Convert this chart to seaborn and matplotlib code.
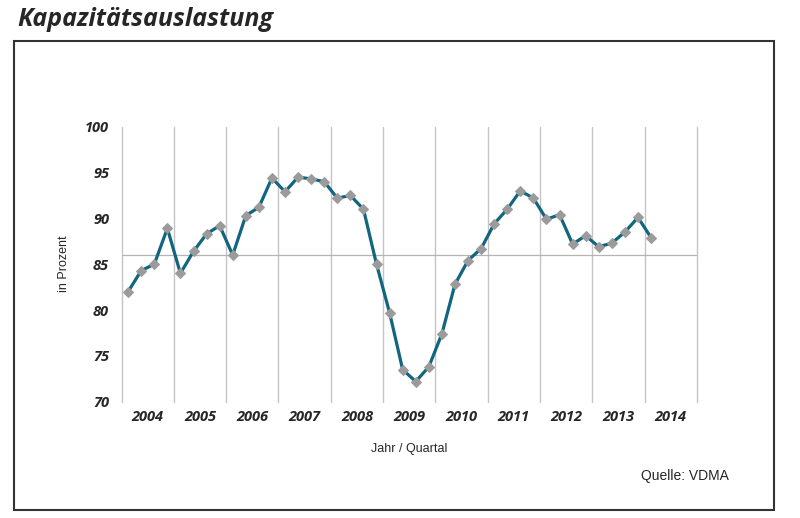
import numpy as np
import pandas as pd
import matplotlib
matplotlib.use('Agg')
import matplotlib.pyplot as plt
from matplotlib.patches import Rectangle
import seaborn as sns

# Kapazitaetsauslastung, quarterly 2004 Q1 .. 2014 Q1
years = [2004] * 4 + [2005] * 4 + [2006] * 4 + [2007] * 4 + [2008] * 4 + \
        [2009] * 4 + [2010] * 4 + [2011] * 4 + [2012] * 4 + [2013] * 4 + [2014]
quarters = [1, 2, 3, 4] * 10 + [1]
values = [82.0, 84.3, 85.0, 88.9,
          84.0, 86.4, 88.3, 89.2,
          86.0, 90.3, 91.2, 94.4,
          92.9, 94.5, 94.3, 94.0,
          92.2, 92.5, 91.0, 85.0,
          79.7, 73.5, 72.2, 73.8,
          77.4, 82.8, 85.4, 86.7,
          89.4, 91.0, 93.0, 92.2,
          89.9, 90.4, 87.2, 88.1,
          86.9, 87.3, 88.5, 90.1,
          87.9]
year_labels = [str(y) for y in range(2004, 2015)]
average = 86

df = pd.DataFrame({'Jahr': years, 'Quartal': quarters, 'Wert': values})
df['x'] = (df['Jahr'] - 2004) + (df['Quartal'] - 0.5) / 4

sns.set_style('white')
plt.rcParams['font.family'] = ['Liberation Sans', 'DejaVu Sans']

fig = plt.figure(figsize=(8, 5.18), dpi=100)
ax = fig.add_axes([0.152, 0.2245, 0.719, 0.531])

tick_font = dict(family='Open Sans', weight='bold', style='italic', size=10.5)

for i in range(len(year_labels) + 1):
    ax.axvline(i, color='#c4c4c4', lw=1, zorder=0, clip_on=False)
ax.axhline(average, color='#b4b4b4', lw=0.9, zorder=0)

sns.lineplot(data=df, x='x', y='Wert', ax=ax, color='#12657e', lw=2.3,
             marker='D', markersize=5.5, markerfacecolor='#9b9b9b',
             markeredgecolor='#9b9b9b', zorder=3)

ax.set_xlim(0, len(year_labels))
ax.set_ylim(70, 100)
ax.set_yticks(range(70, 101, 5))
ax.set_yticklabels([str(v) for v in range(70, 101, 5)], **tick_font)
ax.set_xticks(np.arange(len(year_labels)) + 0.5)
ax.set_xticklabels(year_labels, **tick_font)
ax.tick_params(length=0)
ax.tick_params(axis='y', pad=9)
ax.tick_params(axis='x', pad=6)
for s in ax.spines.values():
    s.set_visible(False)

ax.set_xlabel('Jahr / Quartal', fontsize=9)
ax.set_ylabel('in Prozent', fontsize=9)
ax.xaxis.set_label_coords(0.5, -0.15)
ax.yaxis.set_label_coords(-0.09, 0.5)

fig.text(0.022, 1 - 19 / 518, 'Kapazitätsauslastung', family='Open Sans',
         weight='bold', style='italic', size=18, va='center', ha='left')
fig.text(729 / 800, 1 - 476 / 518, 'Quelle: VDMA', size=10,
         ha='right', va='center')
fig.patches.append(Rectangle((14 / 800, 1 - 510 / 518), 760 / 800, 469 / 518,
                             transform=fig.transFigure, fill=False,
                             edgecolor='#333333', lw=1.5))

fig.savefig('out.png', dpi=100)
